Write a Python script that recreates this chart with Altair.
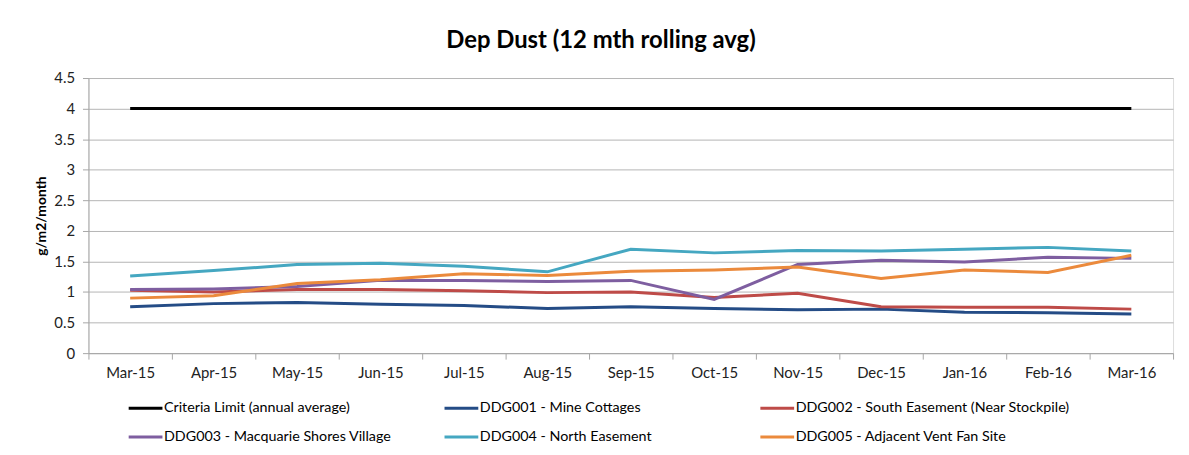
import altair as alt
import pandas as pd

months = ["Mar-15", "Apr-15", "May-15", "Jun-15", "Jul-15", "Aug-15", "Sep-15",
          "Oct-15", "Nov-15", "Dec-15", "Jan-16", "Feb-16", "Mar-16"]

series_names = [
    "Criteria Limit (annual average)",
    "DDG001 - Mine Cottages",
    "DDG002 - South Easement (Near Stockpile)",
    "DDG003 - Macquarie Shores Village",
    "DDG004 - North Easement",
    "DDG005 - Adjacent Vent Fan Site",
]

criteria = [4.0, 4.0, 4.0, 4.0, 4.0, 4.0, 4.0, 4.0, 4.0, 4.0, 4.0, 4.0, 4.0]
ddg001 = [0.76, 0.81, 0.83, 0.80, 0.78, 0.73, 0.76, 0.73, 0.71, 0.72, 0.67, 0.66, 0.64]
ddg002 = [1.03, 1.00, 1.04, 1.04, 1.02, 0.99, 1.00, 0.91, 0.98, 0.76, 0.75, 0.75, 0.72]
ddg003 = [1.04, 1.05, 1.09, 1.19, 1.19, 1.17, 1.19, 0.88, 1.45, 1.52, 1.49, 1.57, 1.55]
ddg004 = [1.26, 1.35, 1.45, 1.47, 1.42, 1.33, 1.70, 1.64, 1.68, 1.67, 1.70, 1.73, 1.67]
ddg005 = [0.90, 0.94, 1.14, 1.20, 1.30, 1.27, 1.34, 1.36, 1.41, 1.22, 1.36, 1.32, 1.60]

colors = ["#000000", "#244C86", "#BE4B48", "#7E5EA0", "#45A7C1", "#EB8A3C"]

values = [criteria, ddg001, ddg002, ddg003, ddg004, ddg005]
rows = []
for name, vals in zip(series_names, values):
    for i, (m, v) in enumerate(zip(months, vals)):
        rows.append({"month": m, "idx": i, "series": name, "value": v})
df = pd.DataFrame(rows)

font = "Lato"

chart = alt.Chart(df).mark_line(strokeWidth=3, strokeCap="butt").encode(
    x=alt.X("month:N", sort=months, title=None,
            scale=alt.Scale(type="band", paddingInner=0, paddingOuter=0),
            axis=alt.Axis(labelAngle=0, tickBand="extent", tickSize=6,
                          labelPadding=7, labelFontSize=15, labelColor="#222222",
                          labelFont=font, domainColor="#a6a6a6", tickColor="#a6a6a6",
                          grid=False)),
    y=alt.Y("value:Q", title="g/m2/month",
            scale=alt.Scale(domain=[0, 4.5], nice=False),
            axis=alt.Axis(values=[0, 0.5, 1, 1.5, 2, 2.5, 3, 3.5, 4, 4.5], format="~g",
                          tickSize=6, labelPadding=8, labelFontSize=15,
                          labelColor="#222222", labelFont=font,
                          domainColor="#a6a6a6", tickColor="#a6a6a6",
                          gridColor="#b4b4b4", gridWidth=1,
                          titleFont=font, titleFontSize=14, titleFontWeight="bold",
                          titleColor="#000000", titleX=-47, titleY=138.5,
                          titleAngle=270, titleAlign="center", titleBaseline="middle")),
    color=alt.Color("series:N", sort=series_names,
                    scale=alt.Scale(domain=series_names, range=colors),
                    legend=alt.Legend(title=None, orient="none", legendX=39, legendY=314,
                                      direction="horizontal",
                                      columns=3, gridAlign="all", columnPadding=0,
                                      rowPadding=4, symbolType="stroke",
                                      symbolStrokeWidth=3, symbolSize=1156,
                                      labelFont=font, labelFontSize=14.4,
                                      labelColor="#000000", labelOffset=0,
                                      labelLimit=400)),
    order=alt.Order("idx:Q"),
).properties(
    width=1092,
    height=277,
    title=alt.TitleParams("Dep Dust (12 mth rolling avg)", font=font, fontSize=24,
                          fontWeight="bold", color="#000000", anchor="middle",
                          dx=-30, offset=18),
    autosize=alt.AutoSizeParams(type="none"),
    padding={"left": 81, "top": 69, "right": 8, "bottom": 93},
).configure_view(stroke=None).configure(background="white")

chart.save("out.html", embed_options={"renderer": "svg", "actions": False})
